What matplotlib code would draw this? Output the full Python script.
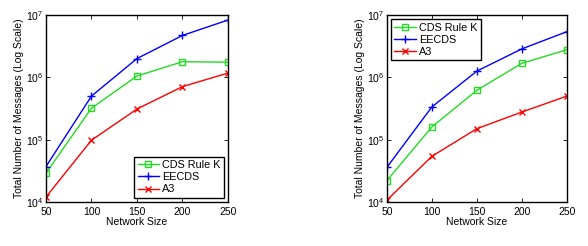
import matplotlib
matplotlib.use("Agg")
import matplotlib.pyplot as plt
from matplotlib.ticker import FixedLocator, NullLocator

plt.rcParams['font.family'] = ['Liberation Sans', 'DejaVu Sans']
plt.rcParams['mathtext.fontset'] = 'custom'
plt.rcParams['mathtext.rm'] = 'Liberation Sans'

network_size = [50, 100, 150, 200, 250]

# left panel
left_cds = [2.9e4, 3.2e5, 1.05e6, 1.78e6, 1.75e6]
left_eecds = [3.7e4, 5.0e5, 2.0e6, 4.7e6, 8.3e6]
left_a3 = [1.2e4, 9.8e4, 3.1e5, 7.1e5, 1.17e6]

# right panel
right_cds = [2.2e4, 1.6e5, 6.2e5, 1.68e6, 2.77e6]
right_eecds = [3.6e4, 3.35e5, 1.26e6, 2.86e6, 5.4e6]
right_a3 = [1.07e4, 5.4e4, 1.5e5, 2.77e5, 5.0e5]

labels = ["CDS Rule K", "EECDS", "A3"]


def draw_panel(ax, cds, eecds, a3, legend_loc):
    ax.plot(network_size, cds, color="#22dd22", marker="s", markersize=5,
            markerfacecolor="none", markeredgewidth=1, linewidth=1, label=labels[0])
    ax.plot(network_size, eecds, color="#0000ff", marker="+", markersize=6,
            markeredgewidth=1, linewidth=1, label=labels[1])
    ax.plot(network_size, a3, color="#ff0000", marker="x", markersize=4.5,
            markeredgewidth=1, linewidth=1, label=labels[2])
    ax.set_yscale("log")
    ax.set_xlim(50, 250)
    ax.set_ylim(1e4, 1e7)
    ax.xaxis.set_major_locator(FixedLocator(network_size))
    ax.yaxis.set_major_locator(FixedLocator([1e4, 1e5, 1e6, 1e7]))
    ax.yaxis.set_minor_locator(NullLocator())
    ax.tick_params(direction="in", top=True, right=True, labelsize=7.5,
                   length=3, width=0.6, pad=2)
    ax.tick_params(axis="x", pad=3.5)
    for s in ax.spines.values():
        s.set_linewidth(1)
    ax.set_xlabel("Network Size", fontsize=7.5, labelpad=0)
    ax.set_ylabel("Total Number of Messages (Log Scale)", fontsize=7.5, labelpad=1)
    leg = ax.legend(loc=legend_loc, fontsize=7.8, fancybox=False, framealpha=1,
                    edgecolor="black", handlelength=2.0, handletextpad=0.25,
                    borderpad=0.3, labelspacing=0.2, borderaxespad=0.4)
    leg.get_frame().set_linewidth(1)


fig = plt.figure(figsize=(5.88, 2.46), dpi=100)
ax1 = fig.add_axes([0.0782, 0.179, 0.3095, 0.760])
ax2 = fig.add_axes([0.658, 0.179, 0.306, 0.760])

draw_panel(ax1, left_cds, left_eecds, left_a3, "lower right")
draw_panel(ax2, right_cds, right_eecds, right_a3, "upper left")

fig.savefig("out.png", dpi=100)
